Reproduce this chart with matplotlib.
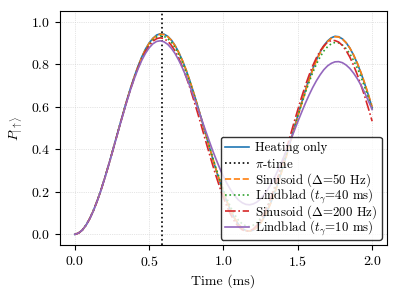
import numpy as np
import matplotlib
matplotlib.use('Agg')
import matplotlib.pyplot as plt
from matplotlib.offsetbox import TextArea
from matplotlib.transforms import Bbox

plt.rcParams['font.family'] = 'serif'
plt.rcParams['font.serif'] = ['cmr10']
plt.rcParams['mathtext.fontset'] = 'cm'
plt.rcParams['axes.formatter.use_mathtext'] = True
plt.rcParams['font.size'] = 10

# time axis in ms, step 0.025
t_ms = np.linspace(0, 2.0, 81)
pi_time = 0.586

# spin-up population (x1000)
heating = [0, 6, 20, 43, 74, 112, 157, 207, 263, 321,
           383, 446, 509, 571, 632, 689, 742, 791, 834, 871,
           900, 922, 937, 943, 941, 931, 913, 887, 854, 815,
           770, 719, 664, 606, 546, 484, 423, 362, 303, 248,
           196, 150, 109, 75, 48, 29, 18, 15, 20, 33,
           54, 83, 119, 161, 208, 261, 317, 376, 437, 498,
           559, 618, 675, 728, 777, 820, 857, 887, 909, 924,
           931, 929, 919, 901, 876, 843, 804, 759, 708, 654, 596]
sin_50 = [0, 6, 20, 43, 74, 112, 156, 206, 262, 320,
          382, 444, 507, 569, 630, 687, 740, 789, 832, 869,
          898, 920, 935, 941, 939, 929, 912, 886, 853, 815,
          770, 719, 664, 607, 547, 485, 424, 363, 305, 250,
          198, 151, 110, 76, 49, 30, 18, 15, 20, 32,
          53, 81, 117, 158, 205, 257, 313, 372, 433, 493,
          554, 613, 670, 723, 773, 816, 853, 883, 906, 921,
          929, 928, 918, 901, 876, 844, 806, 761, 711, 657, 600]
lind_40 = [0, 6, 21, 44, 76, 114, 159, 209, 265, 323,
           384, 447, 509, 570, 630, 686, 738, 786, 828, 864,
           892, 913, 928, 933, 931, 920, 902, 877, 844, 806,
           762, 712, 659, 603, 544, 485, 426, 367, 310, 258,
           208, 164, 125, 93, 67, 50, 40, 37, 43, 55,
           76, 104, 138, 179, 223, 274, 327, 383, 441, 498,
           556, 611, 664, 714, 760, 800, 834, 862, 882, 896,
           902, 900, 890, 873, 849, 818, 782, 740, 692, 642, 589]
sin_200 = [0, 6, 20, 43, 74, 112, 157, 207, 262, 321,
           382, 444, 507, 568, 628, 684, 736, 783, 825, 860,
           887, 908, 920, 924, 920, 908, 888, 861, 826, 785,
           738, 687, 631, 573, 513, 451, 391, 331, 274, 221,
           172, 128, 91, 60, 37, 22, 15, 16, 25, 43,
           68, 100, 139, 184, 234, 289, 346, 406, 466, 527,
           586, 644, 698, 747, 792, 830, 862, 886, 903, 911,
           911, 904, 888, 864, 833, 795, 751, 702, 649, 592, 532]
lind_10 = [0, 6, 20, 43, 73, 111, 156, 206, 261, 320,
           381, 443, 505, 566, 625, 681, 732, 778, 818, 851,
           877, 896, 907, 910, 905, 893, 874, 849, 817, 780,
           739, 694, 646, 597, 547, 496, 447, 398, 353, 310,
           271, 237, 207, 182, 162, 149, 141, 139, 143, 152,
           167, 188, 213, 243, 277, 315, 355, 397, 441, 485,
           530, 573, 615, 654, 690, 722, 750, 774, 792, 804,
           811, 812, 807, 796, 780, 758, 732, 701, 666, 627, 587]

def frac(v):
    return np.array(v) / 1000.0

fig = plt.figure(figsize=(3.99, 2.99), dpi=100)
ax = fig.add_axes([0.1504, 0.1806, 0.8195, 0.7826])
lw = 1.2
ax.plot(t_ms, frac(heating), '-', lw=lw, label='Heating only')
ax.axvline(pi_time, color='k', ls=':', lw=lw, label=r'$\pi$-time')
ax.plot(t_ms, frac(sin_50), '--', lw=lw, label=r'Sinusoid ($\Delta$=50 Hz)')
ax.plot(t_ms, frac(lind_40), ':', lw=lw, label=r'Lindblad ($t_\gamma$=40 ms)')
ax.plot(t_ms, frac(sin_200), '-.', lw=lw, label=r'Sinusoid ($\Delta$=200 Hz)')
ax.plot(t_ms, frac(lind_10), '-', lw=lw, label=r'Lindblad ($t_\gamma$=10 ms)')
ax.set_ylim(-0.05, 1.05)
ax.set_xticks([0, 0.5, 1.0, 1.5, 2.0])
ax.set_xlabel('Time (ms)')
ax.set_ylabel(r'$P_{|\uparrow\rangle}$')
ax.grid(True, ls=':', lw=0.5, color='0.8')

leg_fs = 9.3
leg = ax.legend(loc='lower right', edgecolor='k', framealpha=0.8, fontsize=leg_fs,
                labelspacing=0.14, handlelength=1.8, handletextpad=0.5,
                borderpad=0.35, borderaxespad=0.4)

# math labels come out taller than plain ones: give every row the same height
def even_bbox(renderer, orig):
    bb = orig(renderer)
    em = renderer.points_to_pixels(leg_fs)
    return Bbox.from_bounds(bb.x0, -0.29 * em, bb.width, 1.1 * em)

for ta in leg.findobj(TextArea):
    ta.get_bbox = lambda renderer, orig=ta.get_bbox: even_bbox(renderer, orig)

fig.savefig('out.png')
